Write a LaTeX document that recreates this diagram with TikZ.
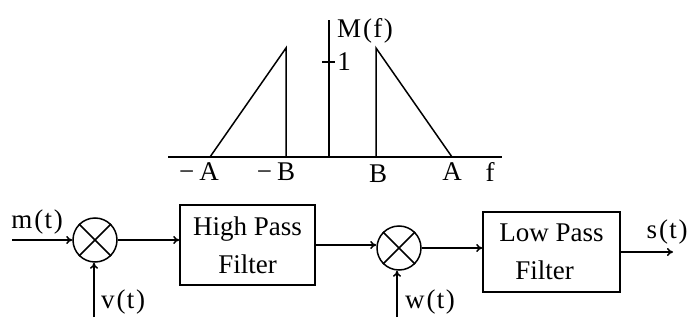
\documentclass[tikz,border=0pt]{standalone}
\usepackage{fontspec}
\setmainfont{Liberation Serif}
\usetikzlibrary{arrows.meta,shapes.geometric}
\newcommand{\pp}[2]{#1\kern2pt(\kern1.5pt#2\kern1.5pt)}
\begin{document}
\begin{tikzpicture}[x=1pt,y=-1pt,line width=1.5pt,
  every node/.style={font=\fontsize{27}{30}\selectfont, inner sep=0pt},
  mixer/.style={draw, circle, minimum size=44pt},
  filterbox/.style={draw, rectangle, align=center, font=\fontsize{27}{38}\selectfont},
  sig/.style={-{To[length=6pt,width=8pt]}},
  lbl/.style={anchor=center}]
\useasboundingbox (0,0) rectangle (688,321);
% ---- spectrum ----
\draw (168,157) -- (502,157);
\draw (329,157) -- (329,20);
\draw (210,157) -- (286,48) -- (286,157);
\draw (376,157) -- (376,48) -- (452,157);
\draw (322,62) -- (335,62);
\node[lbl] (one) at (344,62) {1};
\node[lbl] (mf) at (365,31) {\pp{M}{f}};
\node[lbl] (mA) at (199,172) {−\kern5pt A};
\node[lbl] (mB) at (276,172) {−\kern5pt B};
\node[lbl] (pB) at (378,174) {B};
\node[lbl] (pA) at (452,172) {A};
\node[lbl] (ff) at (490,172) {f};
% ---- block diagram ----
\node[mixer] (c1) at (95,240) {};
\draw (c1.north west) -- (c1.south east) (c1.north east) -- (c1.south west);
\node[mixer] (c2) at (399,248) {};
\draw (c2.north west) -- (c2.south east) (c2.north east) -- (c2.south west);
\node[filterbox, minimum width=135pt, minimum height=80pt] (hp) at (247.5,245) {High Pass\\Filter};
\node[filterbox, minimum width=137pt, minimum height=80pt] (lp) at (551.5,252) {Low Pass\\\kern-14pt Filter};
\coordinate (min) at (12,240);
\coordinate (vin) at (94,317);
\coordinate (win) at (397,317);
\coordinate (sout) at (673,252);
\draw[sig] (min) -- (c1.west);
\draw[sig] (vin) -- (vin |- c1.south);
\draw[sig] (c1.east) -- (c1.east -| hp.west);
\draw[sig] (hp.east) -- (hp.east -| c2.west);
\draw[sig] (win) -- (win |- c2.south);
\draw[sig] (c2.east) -- (c2.east -| lp.west);
\draw[sig] (lp.east) -- (sout);
\node[lbl] (mt) at (37,222) {\pp{m}{t}};
\node[lbl] (vt) at (123,302) {\pp{v}{t}};
\node[lbl] (wt) at (430,302) {\pp{w}{t}};
\node[lbl] (st) at (667,232) {\pp{s}{t}};
\end{tikzpicture}
\end{document}
